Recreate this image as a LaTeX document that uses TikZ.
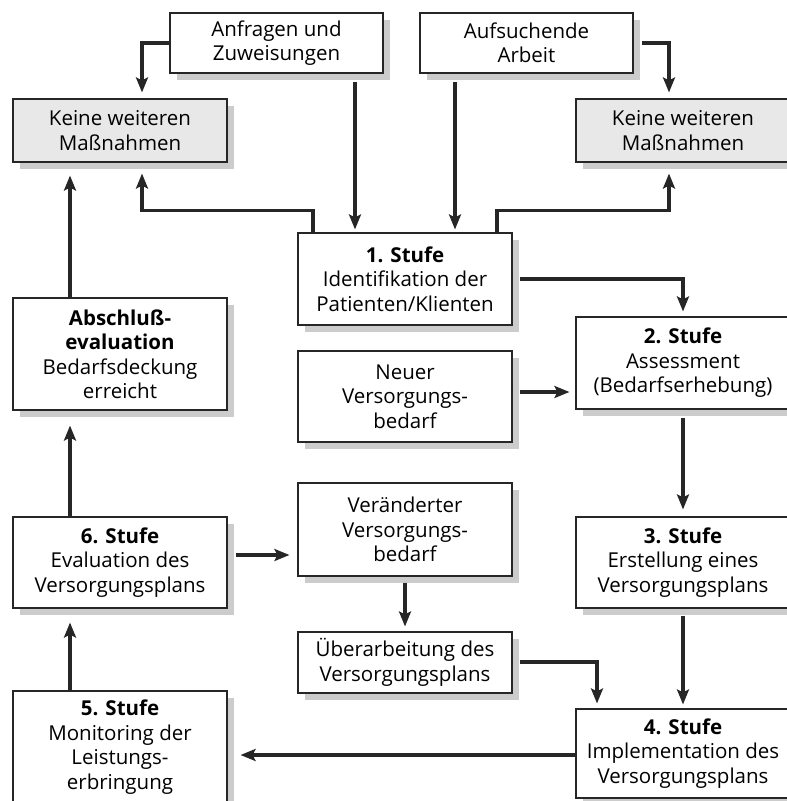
\documentclass[tikz,border=0pt]{standalone}
\usepackage{fontspec}
\setmainfont{Open Sans}
\usepackage{tikz}
\usetikzlibrary{calc}
\usetikzlibrary{shadows}
\usetikzlibrary{arrows.meta}

\begin{document}
\begin{tikzpicture}[x=1pt, y=-1pt,
    box/.style={rectangle, draw=black!85, line width=1.1pt, fill=white, align=center,
        minimum width=214pt, inner sep=2pt, font=\fontsize{20.5}{24.5}\selectfont,
        drop shadow={shadow xshift=7pt, shadow yshift=-7pt, fill=gray!40, opacity=1}},
    greybox/.style={box, fill=gray!18},
    arr/.style={draw=black!85, line width=3.6pt, -{Stealth[length=15pt, width=12pt, inset=3pt]}}]
            \useasboundingbox (0,0) rectangle (787,801);
            \node[box, minimum width=213pt, minimum height=60pt] (anf) at (276.5, 43) {Anfragen und\\Zuweisungen};
            \node[box, minimum width=213pt, minimum height=60pt] (auf) at (526.5, 43) {Aufsuchende\\Arbeit};
            \node[greybox, minimum height=63pt] (keineL) at (120, 130.5) {Keine weiteren\\Maßnahmen};
            \node[greybox, minimum height=63pt] (keineR) at (683, 130.5) {Keine weiteren\\Maßnahmen};
            \node[box, minimum height=92pt] (s1) at (405, 279) {\textbf{1. Stufe}\\Identifikation der\\Patienten/Klienten};
            \node[box, minimum height=92pt] (s2) at (683, 363) {\textbf{2. Stufe}\\Assessment\\(Bedarfserhebung)};
            \node[box, minimum height=112pt] (abs) at (120, 354) {\textbf{Abschluß-}\\\textbf{evaluation}\\Bedarfsdeckung\\erreicht};
            \node[box, minimum height=91pt] (neu) at (405, 396.5) {Neuer\\Versorgungs-\\bedarf};
            \node[box, minimum height=93pt] (ver) at (405, 529.5) {Veränderter\\Versorgungs-\\bedarf};
            \node[box, minimum height=91pt] (s3) at (683, 562.5) {\textbf{3. Stufe}\\Erstellung eines\\Versorgungsplans};
            \node[box, minimum height=91pt] (s6) at (120, 562.5) {\textbf{6. Stufe}\\Evaluation des\\Versorgungsplans};
            \node[box, minimum height=61pt] (ueb) at (405, 662.5) {Überarbeitung des\\Versorgungsplans};
            \node[box, minimum height=89pt] (s4) at (683, 753.5) {\textbf{4. Stufe}\\Implementation des\\Versorgungsplans};
            \node[box, minimum height=112pt] (s5) at (120, 747) {\textbf{5. Stufe}\\Monitoring der\\Leistungs-\\erbringung};

            \draw[arr] (anf.west) -| ($(keineL.north)+(22,-6)$);
            \draw[arr] ($(anf.south)+(78.5,8)$) -- ($(s1.north)+(-50,-3)$);
            \draw[arr] ($(auf.south)+(-71.5,8)$) -- ($(s1.north)+(50,-3)$);
            \draw[arr] ($(auf.east)+(8,0)$) -| ($(keineR.north)+(-14,-6)$);
            \draw[arr] ($(s1.north)+(-92,0)$) -- ++(0,-22) -| ($(keineL.south)+(22,11)$);
            \draw[arr] ($(s1.north)+(92,0)$) -- ++(0,-22) -| ($(keineR.south)+(-14,11)$);
            \draw[arr] ($(s1.east)+(7,0)$) -| ($(s2.north)+(0,-5)$);
            \draw[arr] ($(neu.east)+(7,-4.5)$) -- ($(s2.west)+(-6,29)$);
            \draw[arr] ($(s2.south)+(0,8)$) -- ($(s3.north)+(0,-7)$);
            \draw[arr] ($(s3.south)+(0,7)$) -- ($(s4.north)+(0,-4)$);
            \draw[arr] ($(ueb.east)+(7,-0.5)$) -| ($(s4.north)+(-86,-5)$);
            \draw[arr] ($(s4.west)+(0,1.5)$) -- ($(s5.east)+(13,8)$);
            \draw[arr] ($(s5.north)+(-50,0)$) -- ($(s6.south)+(-50,14)$);
            \draw[arr] ($(s6.east)+(8,-7.5)$) -- ($(ver.west)+(-8,25.5)$);
            \draw[arr] ($(ver.south)+(0,6)$) -- ($(ueb.north)+(0,-5)$);
            \draw[arr] ($(s6.north)+(-50,0)$) -- ($(abs.south)+(-50,15)$);
            \draw[arr] ($(abs.north)+(-50,0)$) -- ($(keineL.south)+(-50,13)$);
        \end{tikzpicture}
\end{document}
